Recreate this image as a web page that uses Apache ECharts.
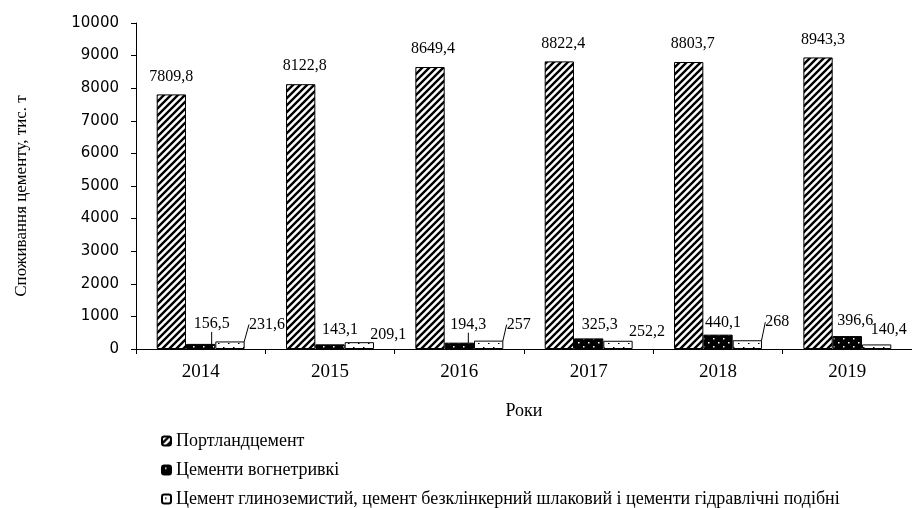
<!DOCTYPE html>
<html>
<head>
<meta charset="utf-8">
<script src="https://cdn.jsdelivr.net/npm/echarts@6/dist/echarts.min.js"></script>
<style>html,body{margin:0;padding:0;background:#fff;}#c{width:912px;height:508px;}</style>
</head>
<body>
<div id="c"></div>
<script>
// ---- data ----
const categories = ['2014', '2015', '2016', '2017', '2018', '2019'];
const seriesNames = [
  'Портландцемент',
  'Цементи вогнетривкі',
  'Цемент глиноземистий, цемент безклінкерний шлаковий і цементи гідравлічні подібні'
];
const portland = [7809.8, 8122.8, 8649.4, 8822.4, 8803.7, 8943.3];
const refractory = [156.5, 143.1, 194.3, 325.3, 440.1, 396.6];
const aluminous = [231.6, 209.1, 257, 252.2, 268, 140.4];
const yMin = 0, yMax = 10000, yStep = 1000;
const xAxisTitle = 'Роки';
const yAxisTitle = 'Споживання цементу, тис. т';

// ---- label placement (style only) ----
const labelShift = [
  { dx: [0, 4, 3, 4, 4, 5], dy: [0, 0, 0, 0, 0, 0], line: [0, 0, 0, 0, 0, 0] },
  { dx: [11, 10, 9, 11, 5, 8], dy: [-7, -2, -5, -1, 1, -2], line: [1, 0, 1, 0, 0, 0] },
  { dx: [37, 29, 30, 29, 30, 12], dy: [-4, 6, -3, 4, -5, -2], line: [1, 0, 1, 0, 1, 0] }
];

// ---- patterns ----
function makeCanvas(w, h) { const c = document.createElement('canvas'); c.width = w; c.height = h; return c; }
function hatch() {
  const s = 7, c = makeCanvas(s, s), g = c.getContext('2d');
  g.fillStyle = '#fff'; g.fillRect(0, 0, s, s);
  g.strokeStyle = '#000'; g.lineWidth = 2.4; g.lineCap = 'square';
  g.beginPath();
  g.moveTo(-1, 1); g.lineTo(1, -1);
  g.moveTo(0, s); g.lineTo(s, 0);
  g.moveTo(s - 1, s + 1); g.lineTo(s + 1, s - 1);
  g.stroke();
  return c;
}
function dots(bg, fg, w, h, pts) {
  const c = makeCanvas(w, h), g = c.getContext('2d');
  g.fillStyle = bg; g.fillRect(0, 0, w, h);
  g.fillStyle = fg;
  pts.forEach(p => g.fillRect(p[0], p[1], 1.5, 1.5));
  return c;
}
const fills = [
  { image: hatch(), repeat: 'repeat' },
  { image: dots('#000', '#fff', 10, 8, [[3, 2], [8, 6]]), repeat: 'repeat' },
  { image: dots('#fff', '#000', 10, 8, [[3, 3], [8, 7]]), repeat: 'repeat' }
];

const fmt = v => String(v).replace('.', ',');
const allValues = [portland, refractory, aluminous];

const series = allValues.map((vals, si) => ({
  name: seriesNames[si],
  type: 'bar',
  barGap: '0%',
  barCategoryGap: '32%',
  itemStyle: { color: fills[si], borderColor: '#000', borderWidth: 1 },
  label: {
    show: true, position: 'top', distance: si === 0 ? 10 : 5,
    fontFamily: 'Liberation Serif', fontSize: 16, color: '#000',
    formatter: p => fmt(p.value)
  },
  labelLine: { show: false, lineStyle: { color: '#000', width: 1 } },
  labelLayout: p => ({ dx: labelShift[si].dx[p.dataIndex], dy: labelShift[si].dy[p.dataIndex] }),
  data: vals.map((v, i) => ({
    value: v,
    labelLine: { show: !!labelShift[si].line[i], lineStyle: { color: '#000', width: 1 } }
  }))
}));

const chart = echarts.init(document.getElementById('c'), null, { renderer: 'canvas' });
chart.setOption({
  backgroundColor: '#fff',
  animation: false,
  grid: { left: 136, top: 23, width: 782, height: 326, containLabel: false },
  legend: {
    orient: 'vertical', left: 156, top: 427, height: 200, itemGap: 11,
    itemWidth: 9, itemHeight: 9,
    textStyle: { fontFamily: 'Liberation Serif', fontSize: 18, color: '#000' },
    data: seriesNames
  },
  xAxis: {
    type: 'category', data: categories,
    name: xAxisTitle, nameLocation: 'middle', nameGap: 53,
    nameTextStyle: { fontFamily: 'Liberation Serif', fontSize: 18, color: '#000' },
    axisLine: { lineStyle: { color: '#000', width: 1 } },
    axisTick: { show: true, length: 5, lineStyle: { color: '#000' } },
    axisLabel: { fontFamily: 'Liberation Serif', fontSize: 19, color: '#000', margin: 14 }
  },
  yAxis: {
    type: 'value', min: yMin, max: yMax, interval: yStep,
    name: yAxisTitle, nameLocation: 'middle', nameGap: 106,
    nameTextStyle: { fontFamily: 'Liberation Serif', fontSize: 17, color: '#000', padding: [0, 20, 0, 0] },
    axisLine: { show: true, lineStyle: { color: '#000', width: 1 } },
    axisTick: { show: true, length: 5, lineStyle: { color: '#000' } },
    splitLine: { show: false },
    axisLabel: { fontFamily: 'DejaVu Sans', fontSize: 15, color: '#000', margin: 17, formatter: v => String(v) }
  },
  series: series
});
</script>
</body>
</html>
